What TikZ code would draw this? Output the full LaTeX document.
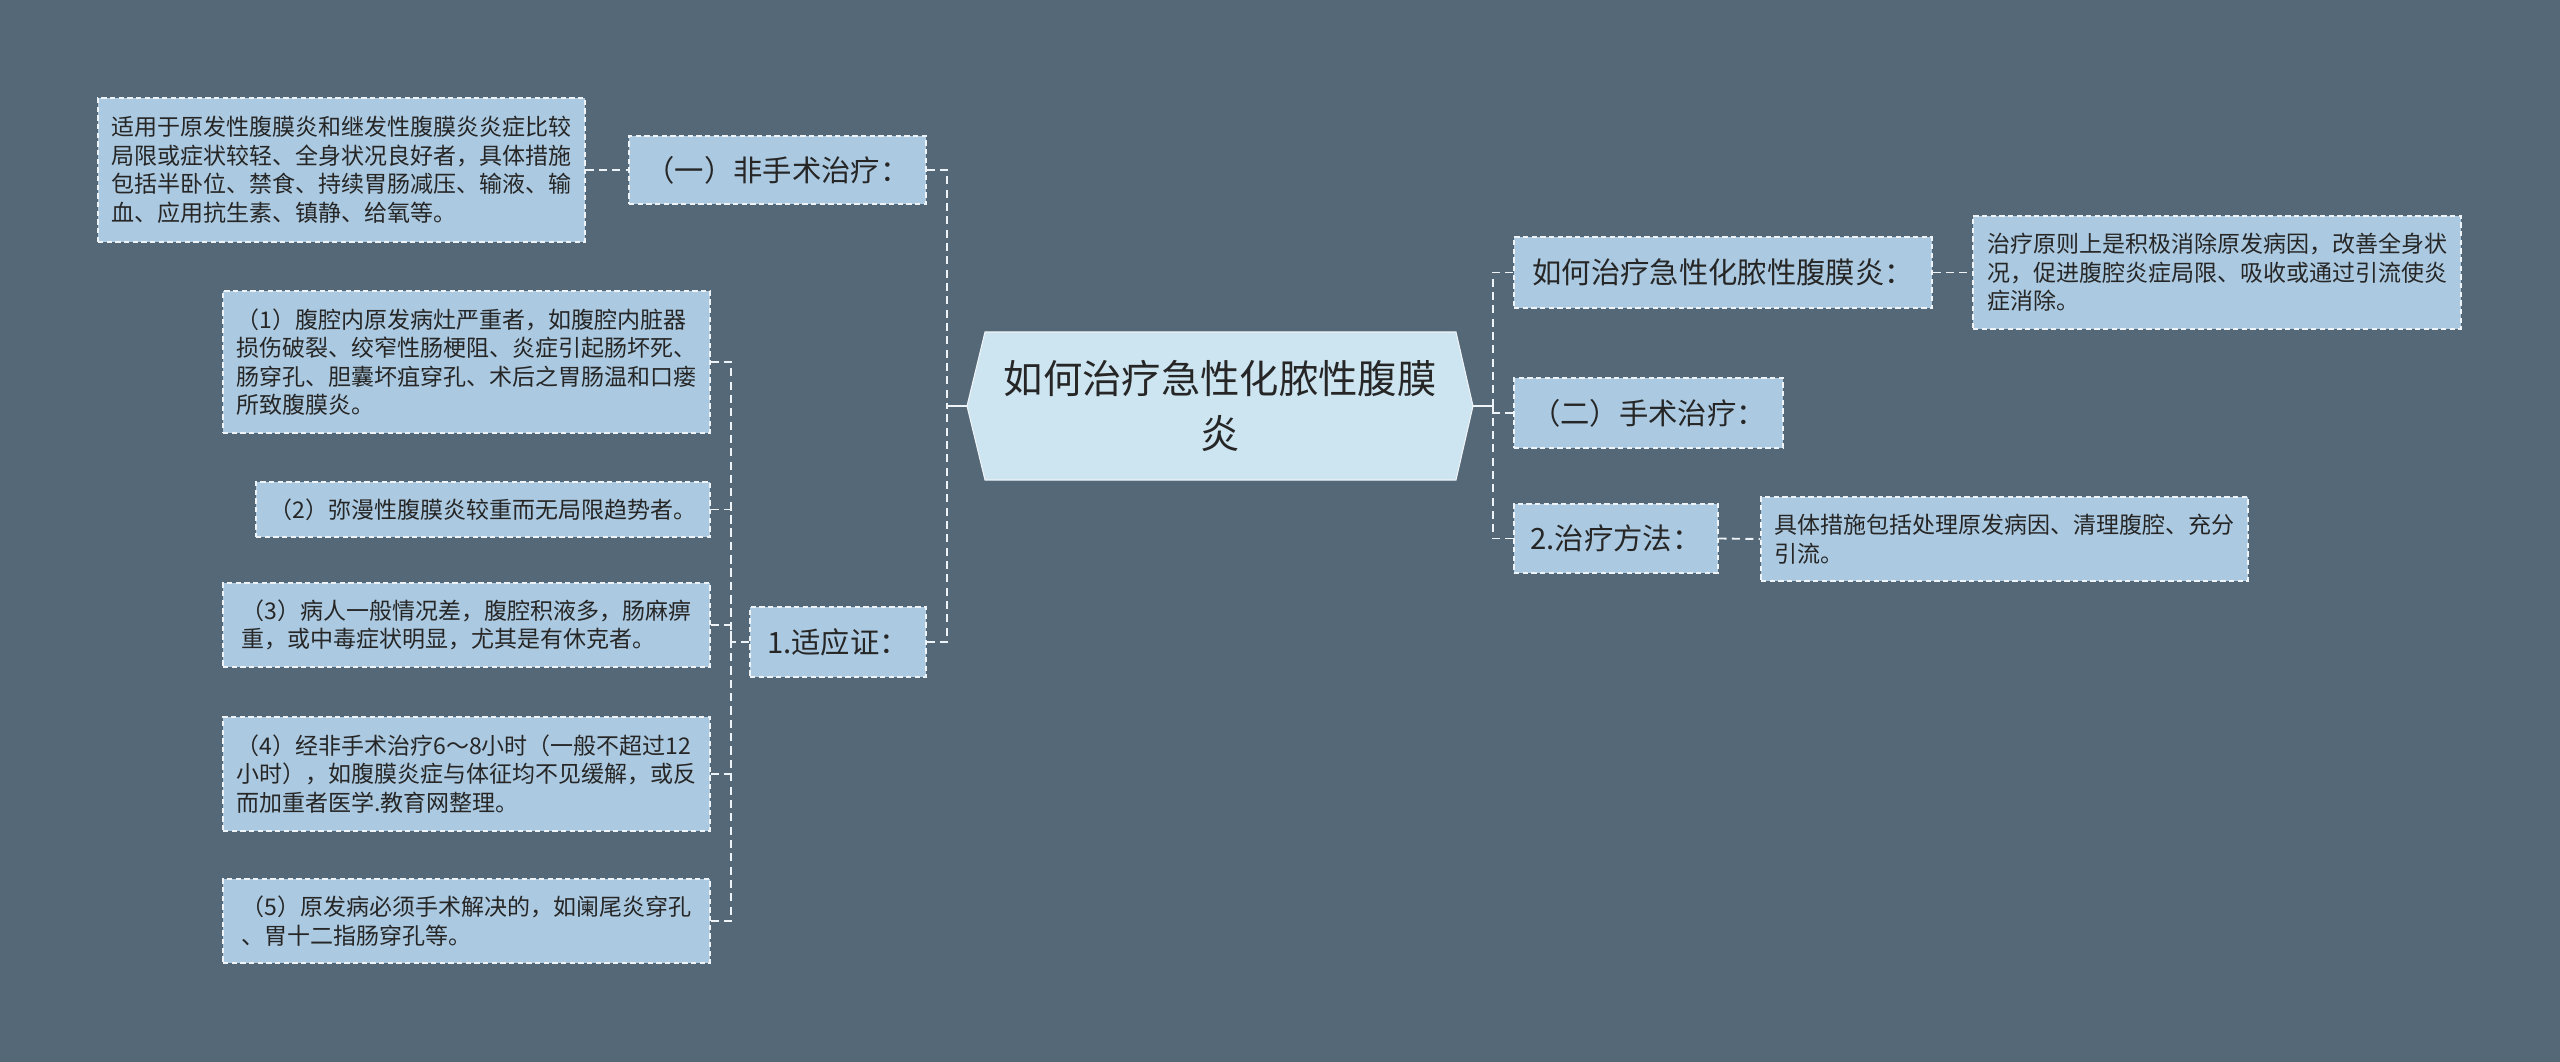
\documentclass[tikz,border=0pt]{standalone}
\usepackage{fontspec}
\setmainfont{Noto Sans CJK SC}
\usetikzlibrary{calc}
\definecolor{bg}{HTML}{546878}
\definecolor{boxfill}{HTML}{ABC9E0}
\definecolor{centerfill}{HTML}{CDE4F1}
\definecolor{edge}{HTML}{EEF3F7}
\definecolor{txt}{HTML}{262626}
\begin{document}
\begin{tikzpicture}[x=0.75pt,y=-0.75pt,
  box/.style={draw=edge, dash pattern=on 4pt off 2.5pt, line width=0.9pt, fill=boxfill,
    text=txt, inner sep=0pt, align=left, font=\fontsize{17.25pt}{21.4pt}\selectfont},
  lab/.style={box, font=\fontsize{22pt}{26pt}\selectfont},
  conn/.style={draw=edge, line width=1.4pt, dash pattern=on 6pt off 4pt},
  solidconn/.style={draw=edge, line width=1.6pt}]
\fill[bg] (0,0) rectangle (2560,1062);
\useasboundingbox (0,0) rectangle (2560,1062);

% central node
\coordinate (mc) at (1220,406);
\filldraw[fill=centerfill, draw=edge, line width=0.8pt]
  ($(mc)+(-253,0)$) -- ($(mc)+(-235,-74)$) -- ($(mc)+(236,-74)$) -- ($(mc)+(253,0)$)
  -- ($(mc)+(236,74)$) -- ($(mc)+(-235,74)$) -- cycle;
\node[minimum width=379.5pt, minimum height=111pt, inner sep=0pt, align=center, text=txt,
  font=\fontsize{29.5pt}{41pt}\selectfont] (m) at (mc) {如何治疗急性化脓性腹膜\\炎};

% left side
\node[box, minimum width=365.25pt, minimum height=108pt] (a) at (341.5,170)
  {适用于原发性腹膜炎和继发性腹膜炎炎症比较\\局限或症状较轻、全身状况良好者，具体措施\\包括半卧位、禁食、持续胃肠减压、输液、输\\血、应用抗生素、镇静、给氧等。};
\node[lab, minimum width=222.75pt, minimum height=51pt] (b) at (777.5,170) {（一）非手术治疗：};
\node[lab, minimum width=132pt, minimum height=52.5pt] (c) at (838,642) {1.适应证：};

\node[box, minimum width=365.25pt, minimum height=106.5pt] (k1) at (466.5,362)
  {（1）腹腔内原发病灶严重者，如腹腔内脏器\\损伤破裂、绞窄性肠梗阻、炎症引起肠坏死、\\肠穿孔、胆囊坏疽穿孔、术后之胃肠温和口瘘\\所致腹膜炎。};
\node[box, minimum width=340.5pt, minimum height=41.25pt] (k2) at (483,509.5)
  {（2）弥漫性腹膜炎较重而无局限趋势者。};
\node[box, minimum width=365.25pt, minimum height=63pt] (k3) at (466.5,625)
  {（3）病人一般情况差，腹腔积液多，肠麻痹\\重，或中毒症状明显，尤其是有休克者。};
\node[box, minimum width=365.25pt, minimum height=85.5pt] (k4) at (466.5,774)
  {（4）经非手术治疗6～8小时（一般不超过12\\小时），如腹膜炎症与体征均不见缓解，或反\\而加重者医学.教育网整理。};
\node[box, minimum width=365.25pt, minimum height=63pt] (k5) at (466.5,921)
  {（5）原发病必须手术解决的，如阑尾炎穿孔\\、胃十二指肠穿孔等。};

% right side
\node[lab, minimum width=313.5pt, minimum height=53.25pt] (d) at (1723,272.5) {如何治疗急性化脓性腹膜炎：};
\node[box, minimum width=366pt, minimum height=84.75pt] (e) at (2217,272.5)
  {治疗原则上是积极消除原发病因，改善全身状\\况，促进腹腔炎症局限、吸收或通过引流使炎\\症消除。};
\node[lab, minimum width=201.75pt, minimum height=52.5pt] (g) at (1648.5,413) {（二）手术治疗：};
\node[lab, minimum width=153pt, minimum height=51.75pt] (f) at (1616,538.5) {2.治疗方法：};
\node[box, minimum width=365.25pt, minimum height=63pt] (h) at (2004.5,539)
  {具体措施包括处理原发病因、清理腹腔、充分\\引流。};

% junctions
\coordinate (tl) at (947,406);
\coordinate (t2) at (731,642);
\coordinate (tr) at (1493,406);

% connectors
\draw[solidconn] (m.west) -- (tl);
\draw[solidconn] (m.east) -- (tr);
\draw[conn] (b.east) -| (tl);
\draw[conn] (c.east) -| (tl);
\draw[conn] (a.east) -- (b.west);
\draw[conn] (c.west) -- (t2);
\draw[conn] (k1.east) -| (t2);
\draw[conn] (k2.east) -| (t2);
\draw[conn] (k3.east) -| (t2);
\draw[conn] (k4.east) -| (t2);
\draw[conn] (k5.east) -| (t2);
\draw[conn] (d.west) -| (tr);
\draw[conn] (g.west) -| (tr);
\draw[conn] (f.west) -| (tr);
\draw[conn] (d.east) -- (e.west);
\draw[conn] (f.east) -- (h.west);
\end{tikzpicture}
\end{document}
